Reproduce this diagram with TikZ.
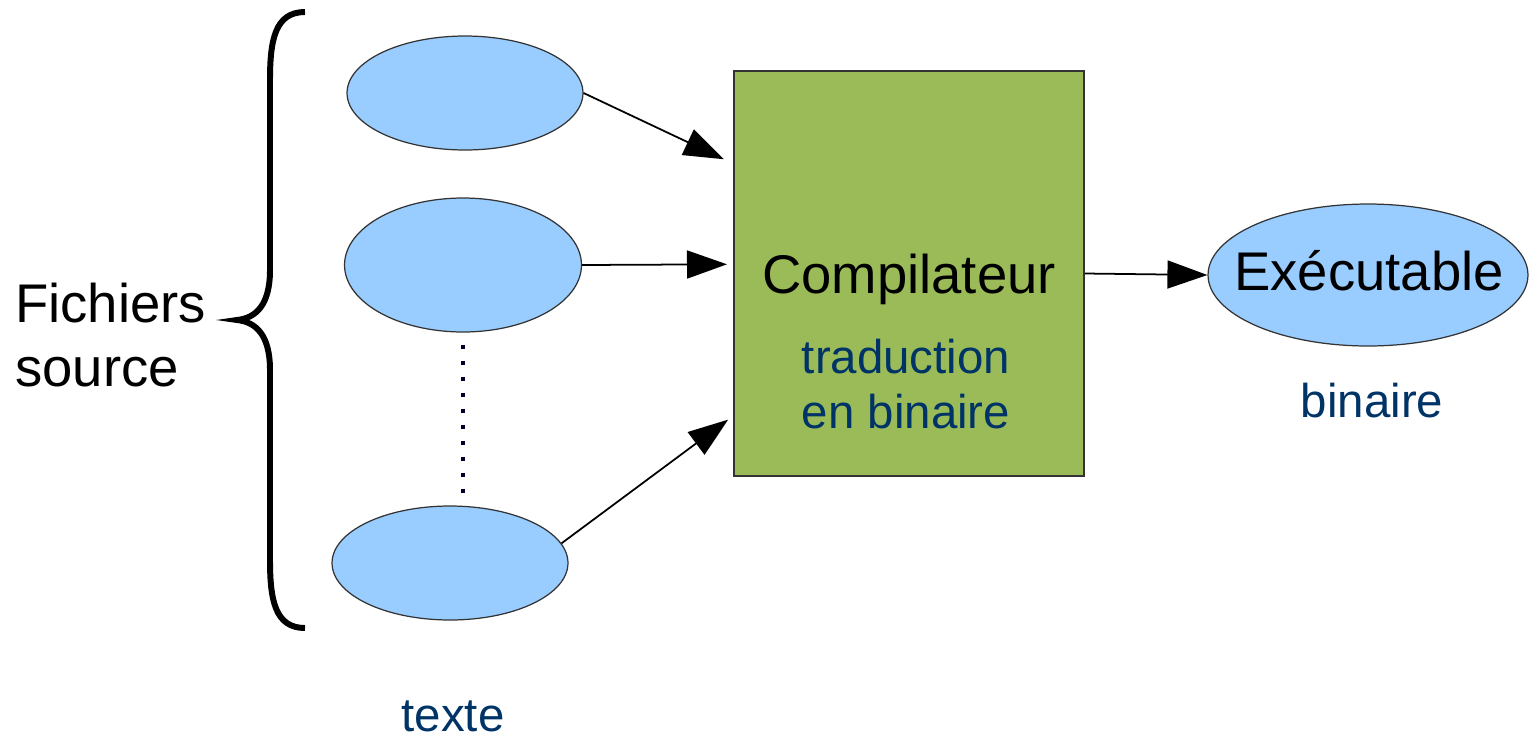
\documentclass[tikz,border=0pt]{standalone}
\usepackage{fontspec}
\setmainfont{Liberation Sans}
\usepackage{tikz}
\usetikzlibrary{arrows.meta,shapes.geometric}
\definecolor{fichier}{HTML}{99CCFF}
\definecolor{compil}{HTML}{9BBB59}
\definecolor{bleutexte}{HTML}{003366}
\tikzset{big/.style={font=\fontsize{31}{36}\selectfont}, small/.style={font=\fontsize{27}{31}\selectfont, text=bleutexte}}

\begin{document}
\begin{tikzpicture}[x=0.02cm, y=-0.02cm, inner sep=0pt,
	src/.style={ellipse, draw=black!80, line width=0.7pt, fill=fichier, minimum width=4.72cm, minimum height=2.28cm},
	fleche/.style={-{Triangle[length=0.8cm, width=0.56cm]}, line width=1pt}]
		\useasboundingbox (0,0) rectangle (1531,738);
		\node(s1)[src] at (465,93){};
		\node(s2)[src, minimum width=4.74cm, minimum height=2.68cm] at (463,265){};
		\node(s3)[src] at (450,563){};
		\node(comp)[draw=black!80, line width=1.2pt, fill=compil, minimum width=7cm, minimum height=8.1cm] at (909,273.5){};
		\node(compt)[big, anchor=base] at (909,293){Compilateur};
		\node(trad)[small, align=center] at (906,384){traduction\\en binaire};
		\node(exe)[src, minimum width=6.4cm, minimum height=2.84cm] at (1368,275){};
		\node(exet)[big, anchor=base] at (1369,290){Exécutable};
		\node(bin)[small, anchor=base] at (1372,417){binaire};
		\node(txt)[small, anchor=base] at (453,731){texte};
		\node(fich)[big, align=left, anchor=west] at (15,335){Fichiers\\source};
		\draw[line width=3.4pt] (305,12) .. controls (275,12) and (270,40) .. (270,80) -- (270,270) .. controls (270,305) and (256,318) .. (237,320) .. controls (256,322) and (270,335) .. (270,370) -- (270,560) .. controls (270,600) and (275,628) .. (305,628);
		\draw[line width=2.3pt, color=black!85!blue, dash pattern=on 2.3pt off 6.8pt, shorten <=0.24cm, shorten >=0.16cm] (s2.south) -- (s2.south |- s3.north);
		\draw[fleche, shorten >=0.2cm](s1.east) to (comp.148);
		\draw[fleche, shorten >=0.12cm](s2.east) to (comp.177);
		\draw[fleche, shorten >=0.12cm](s3.10) to (comp.219.5);
		\draw[fleche](comp.east) to (exe.west);
	\end{tikzpicture}
\end{document}
